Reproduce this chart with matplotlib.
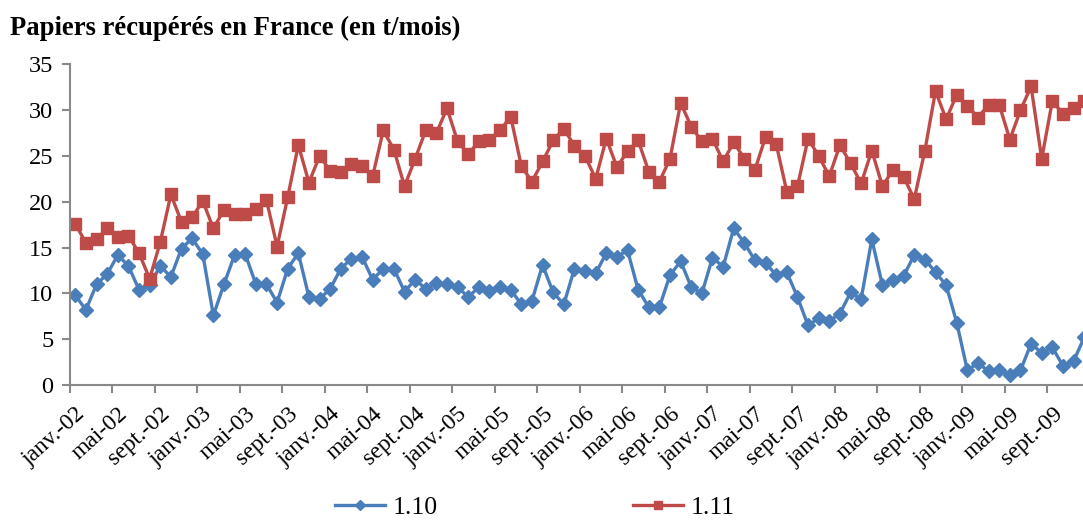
import matplotlib
matplotlib.use("Agg")
import matplotlib.pyplot as plt
import numpy as np

# monthly series, janv. 2002 -> déc. 2009 (t/mois)
serie_110 = [
    9.8, 8.2, 11.0, 12.1, 14.2, 13.0, 10.4, 10.9, 13.0, 11.8, 14.9, 16.0,   # 2002
    14.3, 7.6, 11.0, 14.2, 14.3, 11.0, 11.0, 9.0, 12.7, 14.4, 9.6, 9.4,     # 2003
    10.5, 12.7, 13.8, 14.0, 11.5, 12.7, 12.7, 10.2, 11.5, 10.5, 11.1, 11.0, # 2004
    10.7, 9.6, 10.7, 10.3, 10.7, 10.4, 8.8, 9.2, 13.1, 10.1, 8.8, 12.7,     # 2005
    12.4, 12.2, 14.4, 14.0, 14.7, 10.4, 8.5, 8.5, 12.0, 13.5, 10.7, 10.0,   # 2006
    13.9, 12.9, 17.1, 15.5, 13.6, 13.3, 12.0, 12.3, 9.6, 6.5, 7.3, 7.0,     # 2007
    7.8, 10.1, 9.4, 15.9, 10.9, 11.5, 11.9, 14.2, 13.7, 12.3, 10.9, 6.8,    # 2008
    1.6, 2.4, 1.5, 1.6, 1.1, 1.6, 4.5, 3.5, 4.1, 2.1, 2.6, 5.2,             # 2009
]
serie_111 = [
    17.6, 15.5, 15.9, 17.1, 16.2, 16.3, 14.4, 11.6, 15.6, 20.8, 17.8, 18.3, # 2002
    20.1, 17.1, 19.1, 18.7, 18.7, 19.2, 20.2, 15.1, 20.5, 26.2, 22.1, 25.0, # 2003
    23.4, 23.2, 24.1, 23.9, 22.8, 27.8, 25.7, 21.7, 24.7, 27.8, 27.5, 30.2, # 2004
    26.6, 25.2, 26.6, 26.8, 27.8, 29.3, 23.9, 22.2, 24.4, 26.7, 28.0, 26.1, # 2005
    25.0, 22.5, 26.9, 23.8, 25.5, 26.7, 23.3, 22.2, 24.7, 30.8, 28.2, 26.6, # 2006
    26.9, 24.4, 26.5, 24.7, 23.5, 27.1, 26.3, 21.1, 21.7, 26.9, 25.0, 22.8, # 2007
    26.2, 24.2, 22.0, 25.6, 21.7, 23.5, 22.7, 20.3, 25.6, 32.1, 29.0, 31.7, # 2008
    30.5, 29.2, 30.6, 30.6, 26.8, 30.0, 32.6, 24.7, 31.0, 29.6, 30.2, 31.0, # 2009
]
mois = ["janv.", "mai", "sept."]
annees = ["02", "03", "04", "05", "06", "07", "08", "09"]
etiquettes = [f"{m}-{a}" for a in annees for m in mois]

plt.rcParams["font.family"] = ["Liberation Serif", "DejaVu Serif"]

BLEU = "#4A7EBB"
ROUGE = "#BE4B48"
GRIS = "#898989"

fig = plt.figure(figsize=(10.83, 5.25), dpi=100)
ax = fig.add_axes([70 / 1083, 140 / 525, 1019.5 / 1083, 320.6 / 525])

x = np.arange(len(serie_110))
ax.plot(x, serie_110, color=BLEU, lw=2.4, marker="D", ms=7.5,
        mec=BLEU, mfc=BLEU, label="1.10")
ax.plot(x, serie_111, color=ROUGE, lw=2.4, marker="s", ms=8.5,
        mec=ROUGE, mfc=ROUGE, label="1.11")

ax.set_xlim(-0.5, len(x) - 0.5)
ax.set_ylim(0, 35)
ax.set_yticks(range(0, 36, 5))

# labels centred on every 4th month, tick marks between categories
ax.set_xticks(np.arange(0, len(etiquettes) * 4, 4))
ax.set_xticklabels(etiquettes, rotation=42, ha="right", va="top",
                   rotation_mode="anchor")
ax.set_xticks(np.arange(-0.5, len(x), 4), minor=True)
ax.tick_params(axis="x", which="major", length=0, pad=13, labelsize=17)
ax.tick_params(axis="x", which="minor", length=6, width=1.5, color=GRIS,
               direction="out")
ax.tick_params(axis="y", length=6, width=1.5, color=GRIS, direction="out",
               pad=6, labelsize=17.5)

for s in ["top", "right"]:
    ax.spines[s].set_visible(False)
for s in ["left", "bottom"]:
    ax.spines[s].set_color(GRIS)
    ax.spines[s].set_linewidth(1.5)

fig.text(0.009, 0.945, "Papiers récupérés en France (en t/mois)",
         fontsize=19.2, fontweight="bold", va="center", ha="left")

fig.legend(loc="lower center", bbox_to_anchor=(0.494, -0.032), ncol=2,
           frameon=False, fontsize=18.5, handlelength=1.95,
           columnspacing=7.6, handletextpad=0.3, markerscale=0.7)

fig.savefig("out.png", dpi=100)
